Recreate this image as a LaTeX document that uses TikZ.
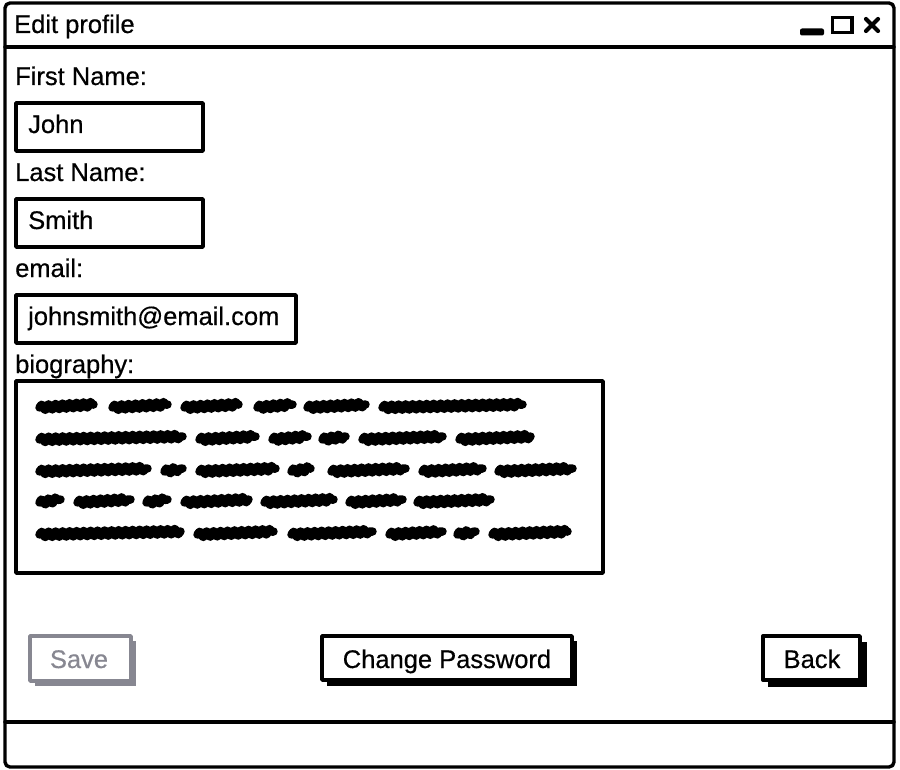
\documentclass[tikz,border=0pt]{standalone}
\usepackage{fontspec}
\setmainfont{Liberation Sans}
\newfontfamily\uifont{Liberation Sans}[FakeBold=0.5]
\usetikzlibrary{decorations.pathmorphing}
\definecolor{disabledgray}{RGB}{135,135,145}
\tikzset{
  frame/.style={line width=3.4pt, line join=round, line cap=round},
  box/.style={line width=3.4pt, line join=round, fill=white},
  lbl/.style={anchor=base west, inner sep=0pt, font=\uifont\fontsize{25.5}{30}\selectfont},
  btntext/.style={anchor=base, inner sep=0pt, font=\uifont\fontsize{25.5}{30}\selectfont},
  scrib/.style={line width=8.5pt, line cap=round, line join=round,
    decorate, decoration={snake, segment length=7pt, amplitude=2.6pt}},
}
\begin{document}
\begin{tikzpicture}[x=1pt,y=-1pt]
\useasboundingbox (0,0) rectangle (900,770);
% window frame
\draw[frame, rounded corners=5pt] (5,3) rectangle (894,767);
\draw[frame] (5,47) -- (894,47);
\draw[frame] (5,722) -- (894,722);
\node[lbl] (title) at (14,33) {Edit profile};
% window controls
\fill[rounded corners=2pt] (800,28.5) rectangle (824,35.5);
\draw[line width=3.4pt] (832.5,17.5) rectangle (852,32.5);
\draw[line width=4.2pt, line cap=round] (866,19) -- (878,31);
\draw[line width=4.2pt, line cap=round] (878,19) -- (866,31);
% first name
\node[lbl] (lfirst) at (15,85) {First Name:};
\draw[box] (16,103) rectangle (203,151);
\node[lbl] (vfirst) at (28,133) {John};
% last name
\node[lbl] (llast) at (15,181) {Last Name:};
\draw[box] (16,199) rectangle (203,247);
\node[lbl] (vlast) at (28,229) {Smith};
% email
\node[lbl] (lemail) at (15,277) {email:};
\draw[box] (16,295) rectangle (296,343);
\node[lbl] (vemail) at (28,325) {johnsmith@email.com};
% biography
\node[lbl] (lbio) at (15,373) {biography:};
\draw[box] (16,381) rectangle (603,573);
\foreach \yy/\ws in {
  406/{35/98,108/172,180/243,253/297,303/370,378/527},
  438/{35/187,195/260,268/312,318/350,358/447,455/535},
  470/{35/152,160/187,195/280,287/315,327/410,418/487,494/577},
  501/{35/65,73/135,142/172,180/253,260/338,345/407,413/495},
  533/{35/185,193/278,287/377,385/447,453/480,488/572}} {
  \foreach \a/\b in \ws {
    \draw[scrib] (\a+4.5,\yy+1.5) -- (\b-4.5,\yy-1.5);
  }
}
% buttons
\fill[disabledgray] (35,641) rectangle (136,686);
\draw[box, draw=disabledgray] (30,636) rectangle (131,681);
\node[btntext, text=disabledgray] (save) at (79,668) {Save};
\fill (327,641) rectangle (577,686);
\draw[box] (322,636) rectangle (572,680);
\node[btntext] (chpw) at (447,668) {Change Password};
\fill (768,642) rectangle (867,687);
\draw[box] (763,636) rectangle (860,680);
\node[btntext] (back) at (812,668) {Back};
\end{tikzpicture}
\end{document}
